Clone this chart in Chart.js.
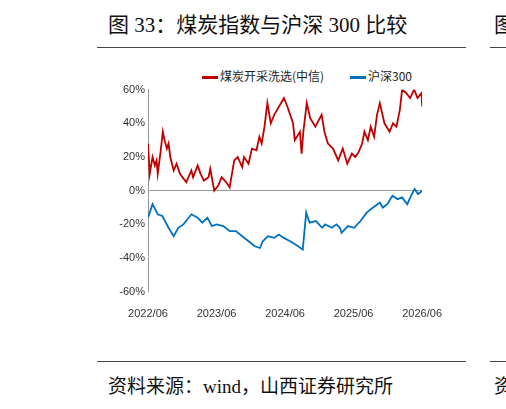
<!DOCTYPE html>
<html>
<head>
<meta charset="utf-8">
<script src="https://cdn.jsdelivr.net/npm/chart.js@4.4.0/dist/chart.umd.min.js"></script>
<style>
  body { margin: 0; background: #fff; width: 506px; height: 409px; position: relative; overflow: hidden; }
  .title { position: absolute; left: 108px; top: 8px; font: 21px "Liberation Serif", "Noto Sans CJK SC"; color: #111; }
  .rule { position: absolute; height: 1px; background: #444; }
  .source { position: absolute; left: 108px; top: 371px; font: 19px "Liberation Serif", "Noto Sans CJK SC"; color: #111; }
  .legend { position: absolute; top: 67px; font: 12px "Noto Sans CJK SC", sans-serif; color: #222; }
  .legend span.ln { display: inline-block; width: 16px; height: 3px; vertical-align: middle; margin-right: 2px; }
  #wrap { position: absolute; left: 100px; top: 80px; width: 350px; height: 249px; }
</style>
</head>
<body>
<div class="title">图 33：煤炭指数与沪深 300 比较</div>
<div class="rule" style="left:97px;width:369px;top:47px"></div>
<div class="rule" style="left:490px;width:16px;top:47px"></div>
<div class="title" style="left:494px">图</div>
<div class="legend" style="left:202px"><span class="ln" style="background:#c00000"></span>煤炭开采洗选(中信)</div>
<div class="legend" style="left:350px"><span class="ln" style="background:#0070c0"></span>沪深300</div>
<div id="wrap"><canvas id="c"></canvas></div>
<div class="rule" style="left:97px;width:369px;top:361px"></div>
<div class="rule" style="left:490px;width:16px;top:361px"></div>
<div class="source">资料来源：wind，山西证券研究所</div>
<div class="source" style="left:494px">资</div>
<script>
// 月份（自 2022/06 起）与数值
const xTicks = ["2022/06", "2023/06", "2024/06", "2025/06", "2026/06"];

const coalX = [0, 0.3, 0.8, 1.2, 1.5, 1.7, 2.2, 2.6, 2.9, 3.3, 3.6, 3.9, 4.5, 5.0, 5.6, 6.7, 7.6, 7.9, 8.7, 9.2, 9.8, 10.6, 10.9, 11.6, 12.3, 12.9, 13.7, 14.3, 15.1, 15.7, 16.5, 16.8, 17.6, 18.2, 19.0, 19.5, 19.9, 20.4, 20.9, 21.5, 22.1, 23.8, 24.4, 25.4, 25.7, 26.6, 26.9, 27.2, 27.8, 28.4, 29.3, 30.4, 30.9, 31.5, 32.4, 33.3, 34.1, 34.9, 35.7, 36.3, 36.9, 37.5, 37.9, 38.5, 39.0, 39.6, 40.1, 40.6, 41.4, 42.3, 42.9, 43.5, 44.1, 44.5, 45.2, 45.9, 46.6, 47.2, 47.9, 48.0];
const coalY = [28, 10, 20, 15, 18, 10, 23, 35, 30, 25, 28, 20, 12, 16, 10, 5, 12, 8, 15, 10, 6, 8, 13, 0, 3, 8, 5, 2, 18, 20, 14, 20, 16, 25, 24, 32, 28, 38, 52, 40, 45, 55, 50, 40, 30, 35, 22, 35, 52, 43, 38, 45, 35, 28, 25, 18, 25, 16, 22, 20, 23, 28, 35, 30, 38, 32, 45, 52, 40, 35, 40, 38, 48, 60, 58, 55, 60, 55, 58, 50];

const hsX = [0, 0.8, 1.7, 2.5, 3.6, 4.5, 5.3, 6.2, 7.6, 8.7, 9.5, 10.4, 11.2, 12.0, 13.2, 14.3, 15.4, 16.5, 17.6, 18.7, 19.6, 20.1, 21.0, 22.1, 22.9, 23.8, 24.9, 26.3, 27.1, 27.7, 28.3, 29.4, 30.5, 31.0, 32.2, 33.0, 33.6, 33.9, 35.0, 36.1, 37.2, 38.3, 39.4, 40.6, 41.1, 41.9, 42.8, 43.7, 44.5, 45.4, 46.2, 46.7, 47.3, 48.0];
const hsY = [-16, -8, -14, -15, -22, -27, -22, -20, -14, -16, -19, -16, -21, -20, -21, -24, -24, -27, -30, -33, -34, -30, -27, -28, -26, -28, -30, -33, -35, -13, -19, -18, -22, -20, -22, -20, -22, -25, -21, -22, -18, -13, -10, -7, -10, -8, -3, -5, -4, -8, -2, 1, -2, 0];

const pts = (xs, ys) => xs.map((x, i) => ({ x: x, y: ys[i] }));

new Chart(document.getElementById("c"), {
  type: "line",
  data: {
    datasets: [
      { label: "煤炭开采洗选(中信)", data: pts(coalX, coalY), borderColor: "#c00000", borderWidth: 1.8, pointRadius: 0, tension: 0 },
      { label: "沪深300", data: pts(hsX, hsY), borderColor: "#0070c0", borderWidth: 1.8, pointRadius: 0, tension: 0 },
    ],
  },
  options: {
    responsive: true,
    maintainAspectRatio: false,
    animation: false,
    layout: { padding: { top: 9, right: 16, left: 0, bottom: 0 } },
    plugins: { legend: { display: false }, tooltip: { enabled: false } },
    scales: {
      x: {
        type: "linear", min: 0, max: 48,
        afterBuildTicks: (axis) => { axis.ticks = [0, 12, 24, 36, 48].map((v) => ({ value: v })); },
        ticks: { callback: (v) => xTicks[v / 12], maxRotation: 0, padding: 8, color: "#333", font: { family: "Liberation Sans", size: 11 } },
        grid: { display: false },
        border: { display: false },
      },
      y: {
        min: -60, max: 60,
        afterFit: (axis) => { axis.width = 48; },
        ticks: { stepSize: 20, callback: (v) => v + "%", color: "#333", font: { family: "Liberation Sans", size: 11 } },
        grid: { color: (c) => (c.tick && c.tick.value === 0 ? "#999" : "transparent"), drawTicks: false },
        border: { color: "#999" },
      },
    },
  },
});
</script>
</body>
</html>
